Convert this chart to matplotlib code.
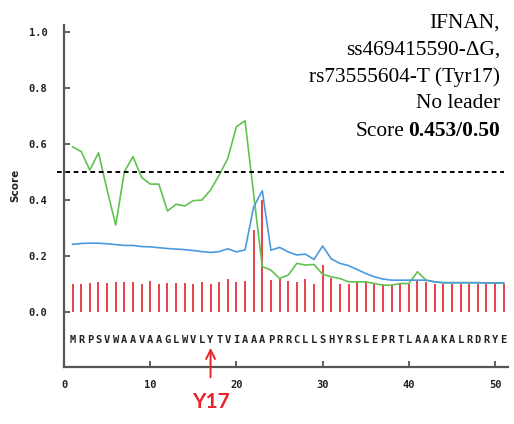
"""
SignalP-style score plot for IFNAN (ss469415590-dG, rs73555604-T, Tyr17).
"""

import matplotlib

matplotlib.use("Agg")
import matplotlib.pyplot as plt
import numpy as np

# ---------------------------------------------------------------------------
# Data
# ---------------------------------------------------------------------------
sequence = "MRPSVWAAVAAGLWVLYTVIAAAPRRCLLSHYRSLEPRTLAAAKALRDRYE"
positions = np.arange(1, len(sequence) + 1)

# C-score (red bars)
c_score = [
    0.101, 0.100, 0.105, 0.106, 0.104, 0.106, 0.106, 0.106, 0.100, 0.110,
    0.100, 0.104, 0.104, 0.105, 0.100, 0.106, 0.100, 0.106, 0.119, 0.107,
    0.111, 0.293, 0.400, 0.115, 0.122, 0.110, 0.108, 0.117, 0.102, 0.168,
    0.120, 0.100, 0.100, 0.108, 0.108, 0.100, 0.099, 0.100, 0.102, 0.102,
    0.110, 0.108, 0.100, 0.100, 0.100, 0.100, 0.100, 0.100, 0.100, 0.100,
    0.100,
]

# S-score (green line)
s_score = [
    0.590, 0.573, 0.507, 0.569, 0.436, 0.311, 0.501, 0.555, 0.481, 0.457,
    0.457, 0.361, 0.385, 0.379, 0.398, 0.400, 0.436, 0.489, 0.549, 0.662,
    0.683, 0.420, 0.162, 0.150, 0.120, 0.132, 0.174, 0.168, 0.170, 0.135,
    0.126, 0.120, 0.108, 0.108, 0.108, 0.102, 0.096, 0.096, 0.102, 0.102,
    0.144, 0.114, 0.108, 0.105, 0.105, 0.105, 0.105, 0.105, 0.104, 0.104,
    0.104,
]

# Y-score (blue line)
y_score = [
    0.242, 0.245, 0.246, 0.246, 0.244, 0.241, 0.238, 0.238, 0.234, 0.233,
    0.230, 0.227, 0.225, 0.223, 0.220, 0.216, 0.213, 0.216, 0.226, 0.215,
    0.222, 0.376, 0.433, 0.221, 0.231, 0.215, 0.204, 0.207, 0.188, 0.236,
    0.190, 0.174, 0.166, 0.152, 0.138, 0.126, 0.118, 0.114, 0.114, 0.114,
    0.114, 0.114, 0.108, 0.105, 0.105, 0.105, 0.105, 0.105, 0.104, 0.104,
    0.104,
]

threshold = 0.50
mutation_pos = 17
mutation_label = "Y17"

info_lines = ["IFNAN,", "ss469415590-\u0394G,", "rs73555604-T (Tyr17)", "No leader"]
score_prefix = "Score"
score_value = "0.453/0.50"

# ---------------------------------------------------------------------------
# Plot
# ---------------------------------------------------------------------------
W, H = 514, 424
fig = plt.figure(figsize=(W / 100, H / 100), dpi=100)
ax = fig.add_axes([64 / W, 57 / H, 444 / W, 342 / H])

red = "#e5414a"
green = "#62c250"
blue = "#4a9ae0"
axis_col = "#555555"
mono = "DejaVu Sans Mono"

ax.vlines(positions, 0, c_score, color=red, lw=1.4)
ax.plot(positions, s_score, color=green, lw=1.2)
ax.plot(positions, y_score, color=blue, lw=1.2)
ax.axhline(threshold, xmin=-0.016, xmax=0.99, color="black", lw=1.4,
           ls=(0, (2.4, 1.9)), clip_on=False)

for pos, aa in zip(positions, sequence):
    ax.text(pos, -0.1, aa, ha="center", va="center", family=mono,
            fontweight="bold", fontsize=7.5, color="#222222")

ax.set_xlim(0, 51.5)
ax.set_ylim(-0.196, 1.025)
ax.set_xticks([0, 10, 20, 30, 40, 50])
ax.set_yticks([0.0, 0.2, 0.4, 0.6, 0.8, 1.0])
ax.set_yticklabels([f"{v:.1f}" for v in ax.get_yticks()])
ax.tick_params(direction="in", length=4, width=1.3, color=axis_col,
               labelsize=7.5, labelcolor="#222222")
ax.tick_params(axis="y", pad=12)
ax.tick_params(axis="x", pad=9)
for lab in ax.get_xticklabels() + ax.get_yticklabels():
    lab.set_family(mono)
    lab.set_fontweight("bold")

for side in ("top", "right"):
    ax.spines[side].set_visible(False)
for side in ("left", "bottom"):
    ax.spines[side].set_color(axis_col)
    ax.spines[side].set_linewidth(1.6)

ax.set_ylabel("Score", fontsize=7.5, fontweight="bold", color="#222222")
ax.yaxis.set_label_coords(-(64 - 20) / 444, 0.53)

# mutation arrow and label
ax.annotate("", xy=(mutation_pos, -0.118), xytext=(mutation_pos, -0.243),
            arrowprops=dict(arrowstyle="->", color="#e8232e", lw=1.4,
                            mutation_scale=16),
            annotation_clip=False)
ax.text(mutation_pos, -0.32, mutation_label, ha="center", va="center",
        color="#e8232e", fontsize=15, fontweight="bold", family="Lato",
        clip_on=False)

# top-right description
serif = "Liberation Serif"
fs = 15.4
x_right = 500 / W
for k, line in enumerate(info_lines):
    fig.text(x_right, 1 - (23 + 27 * k) / H, line, ha="right", va="center",
             family=serif, fontsize=fs)
bold_txt = fig.text(x_right, 1 - 131 / H, score_value, ha="right", va="center",
                    family=serif, fontsize=fs, fontweight="bold")
fig.canvas.draw()
bb = bold_txt.get_window_extent()
fig.text((bb.x0 - 4) / W, 1 - 131 / H, score_prefix, ha="right", va="center",
         family=serif, fontsize=fs)

fig.savefig("out.png", dpi=100)
